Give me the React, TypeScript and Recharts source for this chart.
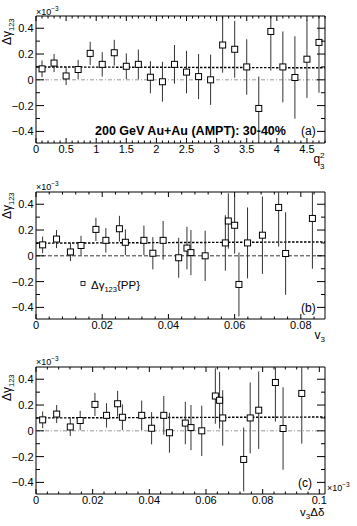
import React from 'react';
import { ScatterChart, Scatter, XAxis, YAxis, ErrorBar, ReferenceLine, ReferenceArea } from 'recharts';

const FONT = '"Liberation Sans", Arial, Helvetica, sans-serif';

// q3^2 bin centres (panel a)
const q3sq = [0.1, 0.3, 0.5, 0.7, 0.9, 1.1, 1.3, 1.5, 1.7, 1.9, 2.1, 2.3, 2.5, 2.7, 2.9, 3.1, 3.3, 3.5, 3.7, 3.9, 4.1, 4.3, 4.5, 4.7];
// mean v3 of each bin (panel b)
const v3 = [0.002, 0.0062, 0.0104, 0.0136, 0.0181, 0.0211, 0.0252, 0.027, 0.0326, 0.0353, 0.0431, 0.0384, 0.0456, 0.0468, 0.0511, 0.0581, 0.06, 0.0572, 0.0613, 0.0733, 0.0639, 0.0754, 0.0684, 0.0835];
// mean v3*Delta-delta of each bin, x10^-3 (panel c)
const v3dd = [0.00235, 0.0073, 0.0121, 0.0156, 0.0208, 0.0249, 0.0288, 0.0305, 0.0373, 0.0408, 0.0471, 0.0451, 0.0527, 0.0547, 0.0585, 0.0633, 0.0648, 0.0659, 0.0733, 0.0845, 0.0756, 0.0872, 0.0786, 0.0938];
// Delta gamma_123 (x10^-3) and its error
const dGamma = [0.085, 0.13, 0.03, 0.08, 0.205, 0.12, 0.21, 0.105, 0.12, 0.02, -0.015, 0.12, 0.06, 0.025, 0, 0.27, 0.237, 0.1, -0.222, 0.375, 0.1, 0.018, 0.16, 0.29];
const dGammaErr = [0.065, 0.07, 0.07, 0.075, 0.09, 0.095, 0.1, 0.1, 0.115, 0.125, 0.155, 0.15, 0.165, 0.175, 0.195, 0.215, 0.22, 0.215, 0.248, 0.303, 0.275, 0.32, 0.3, 0.39];

// linear fit lines (value at left edge, value at right edge)
const fitA = [0.1, 0.093];
const fitB = [0.098, 0.108];
const fitC = [0.1, 0.107];

// axis ticks
const yMajor = [-0.4, -0.2, 0, 0.2, 0.4];
const yLabels = ['\u22120.4', '\u22120.2', '0', '0.2', '0.4'];
const xMajorA = [0, 0.5, 1, 1.5, 2, 2.5, 3, 3.5, 4, 4.5];
const xLabelsA = ['0', '0.5', '1', '1.5', '2', '2.5', '3', '3.5', '4', '4.5'];
const xMajorB = [0, 0.02, 0.04, 0.06, 0.08];
const xLabelsB = ['0', '0.02', '0.04', '0.06', '0.08'];
const xMajorC = [0, 0.02, 0.04, 0.06, 0.08, 0.1];
const xLabelsC = ['0', '0.02', '0.04', '0.06', '0.08', '0.1'];

const Y_DOMAIN: [number, number] = [-0.49, 0.495];

function minorTicks(lo: number, hi: number, step: number): number[] {
  const out: number[] = [];
  const n = Math.floor((hi - lo) / step + 1e-6);
  for (let i = 0; i <= n; i++) out.push(+(lo + i * step).toFixed(6));
  return out;
}

const W = 357;
const LEFT = 36;
const RIGHT = 325;

function squareShape(props: any) {
  const { cx, cy } = props;
  if (cx == null || cy == null) return <g />;
  return <rect x={cx - 3} y={cy - 3} width={6} height={6} fill="#fff" stroke="#000" strokeWidth={1} />;
}

function isMajor(v: number, majors: number[]) {
  return majors.findIndex((m) => Math.abs(m - v) < 1e-7);
}

type PanelProps = {
  xs: number[];
  xDomain: [number, number];
  xMajor: number[];
  xLabels: string[];
  xMinorStep: number;
  fit: number[];
  height: number;
  top: number;
  zeroColor: string;
  zeroDash: string;
};

function Panel({ xs, xDomain, xMajor, xLabels, xMinorStep, fit, height, top, zeroColor, zeroDash }: PanelProps) {
  const xAxisH = 32;
  // error bars are cut at the frame, as in the reference
  const data = xs.map((x, i) => {
    const y = dGamma[i];
    const e = dGammaErr[i];
    return { x, y, err: [Math.min(e, y - Y_DOMAIN[0]), Math.min(e, Y_DOMAIN[1] - y)] };
  });
  const xTicks = minorTicks(xDomain[0], xDomain[1], xMinorStep);
  const yTicks = minorTicks(-0.4, 0.4, 0.1);

  const xTick = (p: any) => {
    const { x, y, payload } = p;
    const idx = isMajor(payload.value, xMajor);
    const len = idx >= 0 ? 5 : 2.5;
    return (
      <g>
        <line x1={x} x2={x} y1={y} y2={y - len} stroke="#000" strokeWidth={1} />
        <line x1={x} x2={x} y1={top} y2={top + len} stroke="#000" strokeWidth={1} />
        {idx >= 0 && (
          <text x={x} y={y + 9.5} textAnchor="middle" fontSize={11} fontFamily={FONT} fill="#000">
            {xLabels[idx]}
          </text>
        )}
      </g>
    );
  };
  const yTick = (p: any) => {
    const { x, y, payload } = p;
    const idx = isMajor(payload.value, yMajor);
    const len = idx >= 0 ? 8 : 4;
    return (
      <g>
        <line x1={x} x2={x + len} y1={y} y2={y} stroke="#000" strokeWidth={1} />
        <line x1={RIGHT} x2={RIGHT - len} y1={y} y2={y} stroke="#000" strokeWidth={1} />
        {idx >= 0 && (
          <text x={x - 2.5} y={y + 4} textAnchor="end" fontSize={11} fontFamily={FONT} fill="#000">
            {yLabels[idx]}
          </text>
        )}
      </g>
    );
  };

  return (
    <ScatterChart width={W} height={height} margin={{ top, right: W - RIGHT, bottom: 0, left: 0 }}>
      <XAxis
        type="number"
        dataKey="x"
        domain={xDomain}
        ticks={xTicks}
        interval={0}
        allowDataOverflow
        axisLine={false}
        tickLine={false}
        tickSize={0}
        tickMargin={0}
        height={xAxisH}
        tick={xTick}
      />
      <YAxis
        type="number"
        dataKey="y"
        domain={Y_DOMAIN}
        ticks={yTicks}
        interval={0}
        allowDataOverflow
        axisLine={false}
        tickLine={false}
        tickSize={0}
        tickMargin={0}
        width={LEFT}
        tick={yTick}
      />
      <ReferenceLine y={0} stroke={zeroColor} strokeDasharray={zeroDash} strokeWidth={1} />
      <ReferenceLine
        segment={[{ x: xDomain[0], y: fit[0] }, { x: xDomain[1], y: fit[1] }]}
        stroke="#000"
        strokeDasharray="2.5 1.5"
        strokeWidth={1.4}
      />
      <Scatter data={data} dataKey="y" isAnimationActive={false} shape={squareShape}>
        <ErrorBar dataKey="err" direction="y" width={0} stroke="#333" strokeWidth={1} isAnimationActive={false} />
      </Scatter>
      <ReferenceArea
        x1={xDomain[0]}
        x2={xDomain[1]}
        y1={Y_DOMAIN[0]}
        y2={Y_DOMAIN[1]}
        fill="none"
        fillOpacity={0}
        stroke="#000"
        strokeWidth={1}
        ifOverflow="visible"
      />
    </ScatterChart>
  );
}

function YTitle({ x, y }: { x: number; y: number }) {
  return (
    <text transform={`translate(${x},${y}) rotate(-90)`} fontSize={12} fontFamily={FONT} fill="#000">
      {'\u0394\u03b3'}
      <tspan fontSize={7.5} dy={3}>123</tspan>
    </text>
  );
}

function Exponent({ x, y }: { x: number; y: number }) {
  return (
    <text x={x} y={y} fontSize={9} fontFamily={FONT} fill="#000">
      {'\u00d710'}
      <tspan fontSize={6.5} dy={-4}>{'\u22123'}</tspan>
    </text>
  );
}

export default function App() {
  return (
    <div style={{ position: 'absolute', left: 0, top: 0, width: W, height: 526, background: '#fff' }}>
      <div style={{ position: 'absolute', left: 0, top: 0 }}>
        <Panel xs={q3sq} xDomain={[0, 4.8]} xMajor={xMajorA} xLabels={xLabelsA} xMinorStep={0.1} fit={fitA} height={175} top={16} zeroColor="#999" zeroDash="4 2 1 2" />
      </div>
      <div style={{ position: 'absolute', left: 0, top: 175 }}>
        <Panel xs={v3} xDomain={[0, 0.0873]} xMajor={xMajorB} xLabels={xLabelsB} xMinorStep={0.004} fit={fitB} height={176} top={17} zeroColor="#333" zeroDash="4 2" />
      </div>
      <div style={{ position: 'absolute', left: 0, top: 350 }}>
        <Panel xs={v3dd} xDomain={[0, 0.102]} xMajor={xMajorC} xLabels={xLabelsC} xMinorStep={0.004} fit={fitC} height={176} top={17} zeroColor="#999" zeroDash="4 2 1 2" />
      </div>
      <svg width={W} height={526} style={{ position: 'absolute', left: 0, top: 0, pointerEvents: 'none' }}>
        {/* panel a */}
        <Exponent x={36} y={15} />
        <YTitle x={11} y={45} />
        <text x={95} y={135} fontSize={12.5} fontWeight="bold" fontFamily={FONT} fill="#000">200 GeV Au+Au (AMPT): 30-40%</text>
        <text x={301} y={135} fontSize={12} fontFamily={FONT} fill="#000">(a)</text>
        <text x={313.5} y={163} fontSize={12} fontFamily={FONT} fill="#000">q</text>
        <text x={320} y={157.5} fontSize={8} fontFamily={FONT} fill="#000">2</text>
        <text x={320} y={168.5} fontSize={8} fontFamily={FONT} fill="#000">3</text>

        {/* panel b */}
        <Exponent x={36} y={190} />
        <YTitle x={11} y={219} />
        <text x={301} y={312} fontSize={12} fontFamily={FONT} fill="#000">(b)</text>
        <text x={314.5} y={339} fontSize={12} fontFamily={FONT} fill="#000">
          v<tspan fontSize={8} dy={3}>3</tspan>
        </text>
        <rect x={81} y={281.5} width={4} height={4} fill="#fff" stroke="#000" strokeWidth={0.8} />
        <text x={91} y={289} fontSize={11.5} fontFamily={FONT} fill="#000">
          {'\u0394\u03b3'}
          <tspan fontSize={7.5} dy={3}>123</tspan>
          <tspan dy={-3}>{'{PP}'}</tspan>
        </text>

        {/* panel c */}
        <Exponent x={36} y={365} />
        <YTitle x={11} y={401} />
        <text x={298} y={487} fontSize={12} fontFamily={FONT} fill="#000">(c)</text>
        <text x={300} y={516} fontSize={11.5} fontFamily={FONT} fill="#000">
          v<tspan fontSize={8} dy={3}>3</tspan>
          <tspan dy={-3}>{'\u0394\u03b4'}</tspan>
        </text>
        <Exponent x={327} y={491} />
      </svg>
    </div>
  );
}
